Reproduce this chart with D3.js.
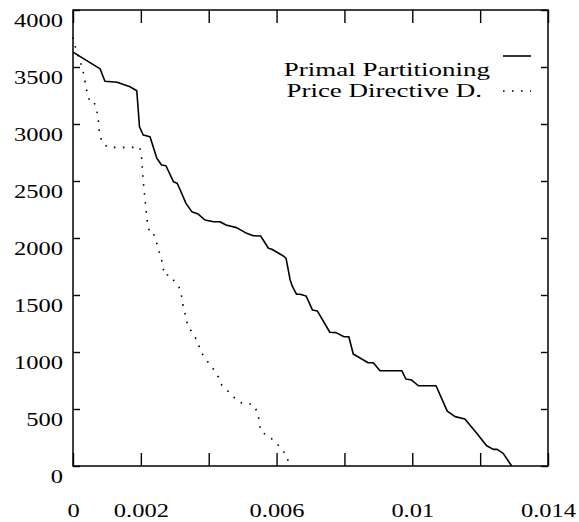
<!DOCTYPE html>
<html>
<head>
<meta charset="utf-8">
<script src="https://cdn.jsdelivr.net/npm/d3@7"></script>
<style>
  body { margin: 0; background: #fff; }
  text { font-family: "Liberation Serif", serif; font-size: 18px; fill: #000; }
</style>
</head>
<body>
<div id="chart"></div>
<script>
// tick values and labels
const xTicks = [0, 0.002, 0.004, 0.006, 0.008, 0.01, 0.012, 0.014];
const xTickLabels = ["0", "0.002", "", "0.006", "", "0.01", "", "0.014"];
const yTicks = [0, 500, 1000, 1500, 2000, 2500, 3000, 3500, 4000];
const yTickLabels = ["0", "500", "1000", "1500", "2000", "2500", "3000", "3500", "4000"];

const seriesNames = ["Primal Partitioning", "Price Directive D."];

// Primal Partitioning (solid)
const primal = [
  [0, 3630], [0.0008, 3483], [0.00094, 3375], [0.0013, 3366], [0.00168, 3327],
  [0.00188, 3292], [0.00196, 2976], [0.00207, 2903], [0.00227, 2889], [0.00247, 2699],
  [0.00261, 2640], [0.00274, 2634], [0.00296, 2494], [0.00307, 2480], [0.00316, 2421],
  [0.00333, 2304], [0.0035, 2231], [0.00369, 2210], [0.00389, 2158], [0.00414, 2143],
  [0.00433, 2143], [0.00451, 2114], [0.00482, 2091], [0.00512, 2041], [0.00531, 2020],
  [0.00553, 2018], [0.00576, 1910], [0.00586, 1901], [0.0062, 1842], [0.00628, 1822],
  [0.0064, 1632], [0.00647, 1573], [0.00659, 1506], [0.00669, 1506], [0.00687, 1491],
  [0.00706, 1368], [0.0072, 1360], [0.00757, 1173], [0.00775, 1170], [0.00799, 1134],
  [0.00813, 1134], [0.00826, 982], [0.00856, 930], [0.0087, 906], [0.00885, 906],
  [0.00905, 836], [0.00969, 836], [0.00981, 763], [0.00998, 754], [0.01018, 704],
  [0.0107, 704], [0.01103, 482], [0.01126, 433], [0.01155, 412], [0.0119, 287],
  [0.01219, 178], [0.01239, 146], [0.0125, 146], [0.01268, 111], [0.01293, 0]
];

// Price Directive D. (dotted)
const priceDirective = [
  [0, 3760], [0.00008, 3664], [0.00023, 3533], [0.0003, 3459], [0.0004, 3298],
  [0.00048, 3211], [0.0006, 3211], [0.0007, 3123], [0.00075, 3020], [0.00078, 2904],
  [0.00089, 2825], [0.00104, 2795], [0.00197, 2795], [0.00202, 2713], [0.00207, 2494],
  [0.00212, 2348], [0.00217, 2202], [0.0022, 2114], [0.00227, 2041], [0.00237, 2041],
  [0.00247, 1954], [0.00253, 1889], [0.00261, 1807], [0.00266, 1734], [0.00268, 1675],
  [0.00286, 1675], [0.00301, 1611], [0.00312, 1573], [0.00316, 1538], [0.00322, 1465],
  [0.00325, 1389], [0.00332, 1318], [0.00338, 1231], [0.00355, 1155], [0.00369, 1082],
  [0.00374, 1018], [0.00389, 945], [0.00409, 871], [0.00428, 783], [0.00438, 710],
  [0.00463, 638], [0.00487, 564], [0.00507, 544], [0.00528, 544], [0.00536, 520],
  [0.00546, 447], [0.00553, 301], [0.00571, 272], [0.0059, 228], [0.00612, 161],
  [0.0063, 88], [0.00638, 0]
];

const width = 579, height = 522;
const margin = {top: 10, right: 31, bottom: 56, left: 73};
const w = width - margin.left - margin.right;
const h = height - margin.top - margin.bottom;

const svg = d3.select("#chart").append("svg")
    .attr("width", width)
    .attr("height", height);

const g = svg.append("g")
    .attr("transform", `translate(${margin.left},${margin.top})`);

const x = d3.scaleLinear().domain([0, 0.014]).range([0, w]);
const y = d3.scaleLinear().domain([0, 4000]).range([h, 0]);

// widen glyphs around their anchor point, the original font runs wider than Times
function stretch(sel, k) {
    sel.each(function() {
        const t = d3.select(this);
        const tx = +t.attr("x") || 0;
        t.attr("transform", `translate(${tx},0) scale(${k},1) translate(${-tx},0)`);
    });
}

function styleAxis(ax) {
    ax.select(".domain").remove();
    ax.selectAll(".tick line").attr("stroke", "#000").attr("stroke-width", 1.4);
    ax.attr("font-family", null).attr("font-size", null);
}

// bottom axis
const xAxisG = g.append("g")
    .attr("transform", `translate(0,${h})`)
    .call(d3.axisBottom(x).tickValues(xTicks).tickSize(-13).tickPadding(38)
        .tickFormat((d, i) => xTickLabels[i]));
styleAxis(xAxisG);

// top axis
const xTopG = g.append("g")
    .call(d3.axisTop(x).tickValues(xTicks).tickSize(-13).tickFormat(""));
styleAxis(xTopG);

// left axis
const yAxisG = g.append("g")
    .call(d3.axisLeft(y).tickValues(yTicks).tickSize(-7).tickPadding(10)
        .tickFormat((d, i) => yTickLabels[i]));
styleAxis(yAxisG);
yAxisG.selectAll("text").attr("y", 10.5);

// right axis
const yRightG = g.append("g")
    .attr("transform", `translate(${w},0)`)
    .call(d3.axisRight(y).tickValues(yTicks).tickSize(-7).tickFormat(""));
styleAxis(yRightG);

stretch(xAxisG.selectAll("text"), 1.36);
stretch(yAxisG.selectAll("text"), 1.36);

// frame
g.append("rect")
    .attr("x", 0).attr("y", 0)
    .attr("width", w).attr("height", h)
    .attr("fill", "none")
    .attr("stroke", "#000")
    .attr("stroke-width", 1.5);

const line = d3.line()
    .x(d => x(d[0]))
    .y(d => y(d[1]));

g.append("path")
    .datum(primal)
    .attr("fill", "none")
    .attr("stroke", "#000")
    .attr("stroke-width", 1.6)
    .attr("stroke-linejoin", "round")
    .attr("d", line);

g.append("path")
    .datum(priceDirective)
    .attr("fill", "none")
    .attr("stroke", "#000")
    .attr("stroke-width", 1.6)
    .attr("stroke-dasharray", "1.6 7.4")
    .attr("d", line);

// legend
const legend = svg.append("g");
const legendRows = [
    {name: seriesNames[0], textX: 490, textY: 76, lineY: 56, dash: null},
    {name: seriesNames[1], textX: 482, textY: 97, lineY: 91, dash: "1.6 7.4"}
];
legendRows.forEach(r => {
    const t = legend.append("text")
        .attr("x", r.textX)
        .attr("y", r.textY)
        .attr("text-anchor", "end")
        .text(r.name);
    stretch(t, 1.5);
    legend.append("line")
        .attr("x1", 503).attr("x2", 531)
        .attr("y1", r.lineY).attr("y2", r.lineY)
        .attr("stroke", "#000")
        .attr("stroke-width", 1.6)
        .attr("stroke-dasharray", r.dash);
});
</script>
</body>
</html>
